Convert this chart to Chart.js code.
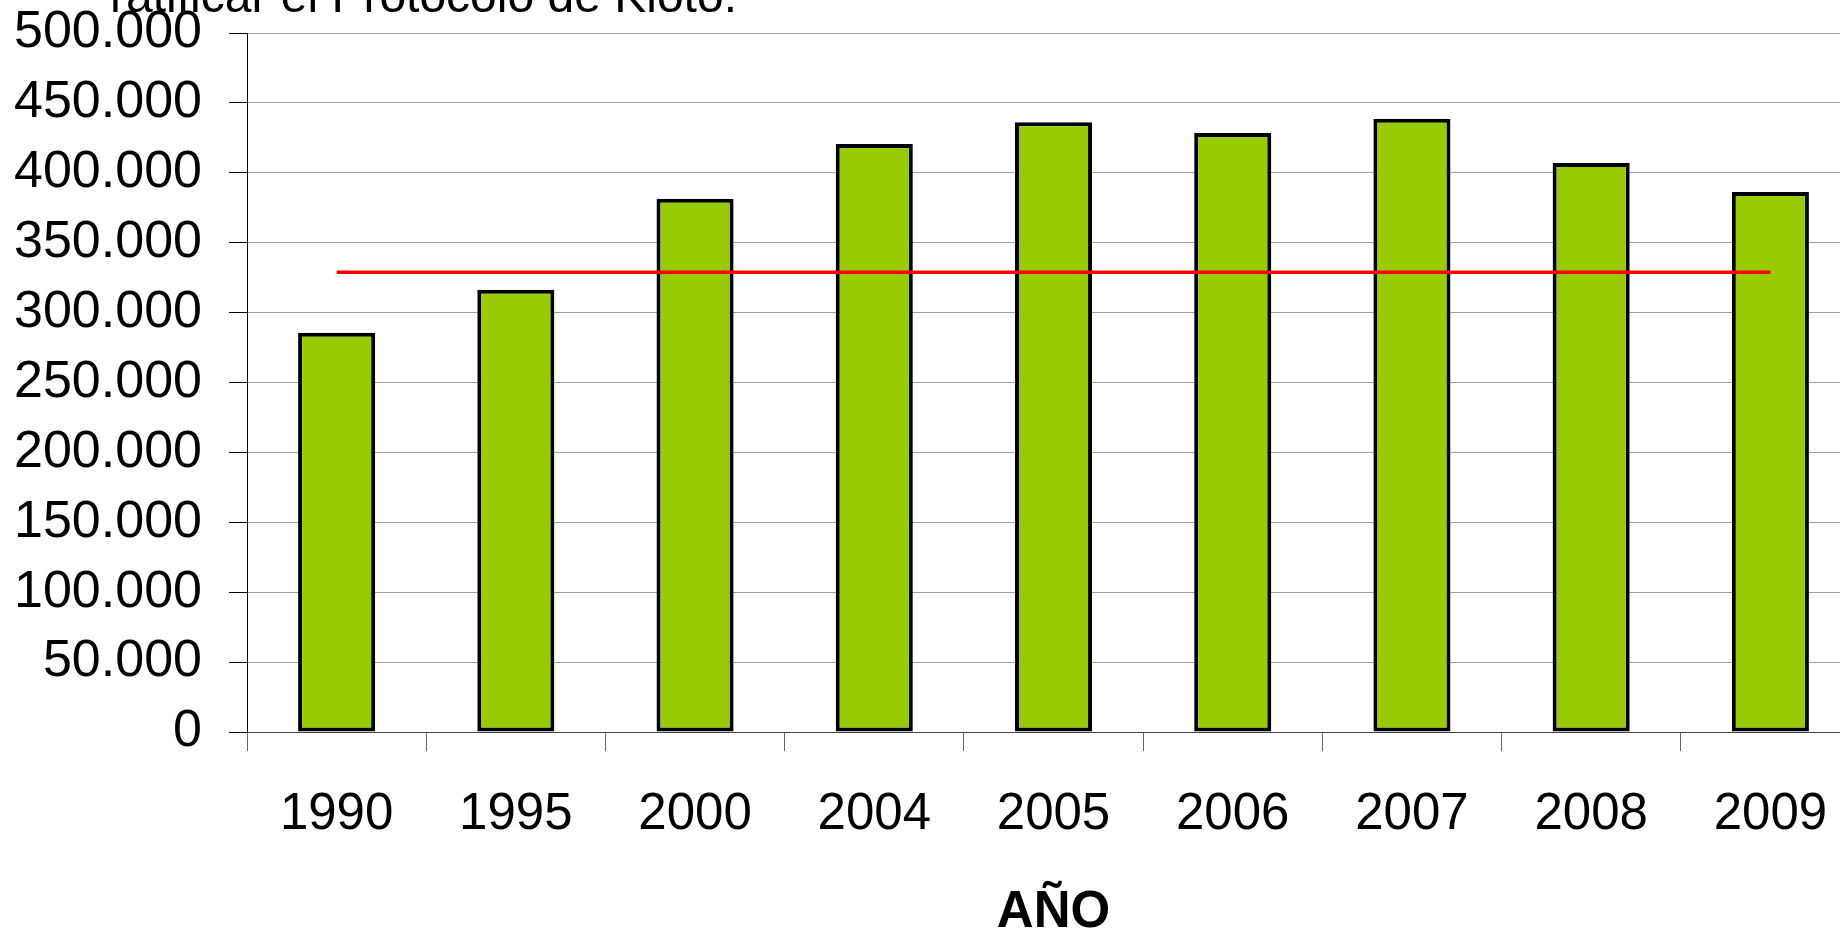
<!DOCTYPE html>
<html>
<head>
<meta charset="utf-8">
<script src="https://cdn.jsdelivr.net/npm/chart.js@4.4.1/dist/chart.umd.min.js"></script>
<style>
  html, body { margin: 0; padding: 0; background: #fff; overflow: hidden; }
  #wrap { position: absolute; left: 0; top: 0; width: 1880px; height: 929px; }
  #topText {
    position: absolute; left: 110px; top: -28px;
    font-family: 'Liberation Sans', Arial, sans-serif;
    font-size: 48px; line-height: 48px; color: #000; white-space: nowrap;
  }
</style>
</head>
<body>
<div id="wrap">
  <canvas id="grafico" width="1880" height="929"></canvas>
  <div id="topText">ratificar el Protocolo de Kioto.</div>
</div>
<script>
var years = ['1990', '1995', '2000', '2004', '2005', '2006', '2007', '2008', '2009'];
var emissions = [285500, 316400, 381500, 420600, 436100, 428500, 438700, 407000, 386300];
var kyotoLimit = [328800, 328800, 328800, 328800, 328800, 328800, 328800, 328800, 328800];
var yTicks = { min: 0, max: 500000, step: 50000 };

// separador de miles con punto
function miles(v) {
  return String(v).replace(/\B(?=(\d{3})+(?!\d))/g, '.');
}

var fuente = "'Liberation Sans', Arial, sans-serif";
var ctx = document.getElementById('grafico').getContext('2d');

new Chart(ctx, {
  data: {
    labels: years,
    datasets: [{
      type: 'line',
      label: 'Kioto',
      data: kyotoLimit,
      borderColor: '#ff0000',
      borderWidth: 3.5,
      pointRadius: 0,
      fill: false,
      order: 0
    }, {
      type: 'bar',
      label: 'Emisiones',
      data: emissions,
      backgroundColor: '#99cc00',
      borderColor: '#000000',
      borderWidth: 4,
      borderSkipped: false,
      barPercentage: 0.43,
      categoryPercentage: 1,
      order: 1
    }]
  },
  options: {
    responsive: false,
    animation: false,
    devicePixelRatio: 1,
    layout: { padding: { top: 33, right: 20, left: 0, bottom: 0 } },
    plugins: {
      legend: { display: false },
      tooltip: { enabled: false }
    },
    scales: {
      x: {
        offset: true,
        grid: {
          offset: true,
          drawOnChartArea: false,
          drawTicks: true,
          tickLength: 19,
          tickColor: '#666'
        },
        border: { color: '#444', width: 1 },
        ticks: {
          color: '#000',
          padding: 33,
          maxRotation: 0,
          font: { family: fuente, size: 51 }
        },
        title: {
          display: true,
          text: 'AÑO',
          color: '#000',
          padding: 0,
          font: { family: fuente, size: 51, weight: 'bold', lineHeight: 0.62 }
        },
        afterFit: function(scale) { scale.height = 197; }
      },
      y: {
        min: yTicks.min,
        max: yTicks.max,
        grid: {
          color: '#a0a0a0',
          lineWidth: 1,
          tickLength: 18,
          tickColor: '#000'
        },
        border: { color: '#000', width: 1 },
        ticks: {
          stepSize: yTicks.step,
          color: '#000',
          padding: 27,
          font: { family: fuente, size: 52 },
          callback: function(v) { return miles(v); }
        },
        afterFit: function(scale) {
          scale.width = 247;
          scale.paddingTop = 0;
          scale.paddingBottom = 0;
        }
      }
    }
  }
});
</script>
</body>
</html>
